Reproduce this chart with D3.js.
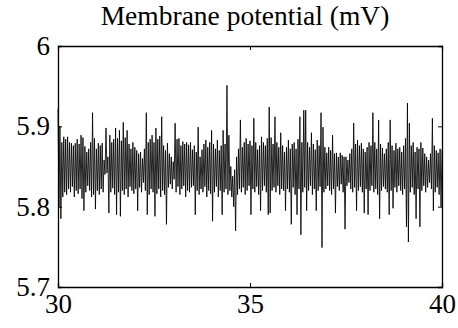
<!DOCTYPE html>
<html>
<head>
<meta charset="utf-8">
<script src="https://cdn.jsdelivr.net/npm/d3@7"></script>
<style>
  body { margin: 0; background: #fff; }
  svg { display: block; }
  text { font-family: "Liberation Serif", "Times New Roman", Times, "DejaVu Serif", serif; fill: #000; }
</style>
</head>
<body>
<svg id="chart" width="458" height="328"></svg>
<script>
// time axis (s) and membrane potential samples (mV)
const tStart = 30;
const tStep = 0.025;
const potential = [
  5.922, 5.800, 5.900, 5.785, 5.880, 5.812, 5.887, 5.818, 5.884, 5.815,
  5.887, 5.822, 5.880, 5.818, 5.879, 5.825, 5.876, 5.812, 5.879, 5.820,
  5.884, 5.816, 5.878, 5.822, 5.889, 5.810, 5.886, 5.795, 5.875, 5.818,
  5.868, 5.826, 5.872, 5.820, 5.880, 5.812, 5.917, 5.815, 5.885, 5.797,
  5.872, 5.820, 5.879, 5.815, 5.876, 5.822, 5.879, 5.818, 5.858, 5.840,
  5.898, 5.842, 5.862, 5.792, 5.889, 5.818, 5.880, 5.823, 5.884, 5.815,
  5.898, 5.790, 5.885, 5.818, 5.895, 5.788, 5.882, 5.820, 5.905, 5.815,
  5.886, 5.822, 5.895, 5.812, 5.878, 5.825, 5.872, 5.820, 5.880, 5.816,
  5.874, 5.822, 5.870, 5.795, 5.866, 5.824, 5.868, 5.818, 5.860, 5.830,
  5.872, 5.820, 5.917, 5.790, 5.880, 5.815, 5.884, 5.822, 5.889, 5.818,
  5.880, 5.788, 5.898, 5.816, 5.884, 5.822, 5.888, 5.812, 5.912, 5.820,
  5.876, 5.815, 5.870, 5.778, 5.879, 5.824, 5.866, 5.828, 5.862, 5.822,
  5.856, 5.834, 5.904, 5.818, 5.884, 5.825, 5.885, 5.815, 5.876, 5.822,
  5.881, 5.826, 5.878, 5.812, 5.880, 5.820, 5.877, 5.818, 5.880, 5.824,
  5.871, 5.826, 5.876, 5.790, 5.868, 5.820, 5.899, 5.815, 5.862, 5.822,
  5.871, 5.818, 5.878, 5.825, 5.883, 5.812, 5.874, 5.820, 5.880, 5.816,
  5.895, 5.782, 5.878, 5.818, 5.872, 5.825, 5.883, 5.812, 5.870, 5.820,
  5.876, 5.790, 5.895, 5.818, 5.878, 5.822, 5.951, 5.815, 5.889, 5.820,
  5.850, 5.812, 5.838, 5.800, 5.846, 5.770, 5.862, 5.815, 5.872, 5.822,
  5.908, 5.818, 5.874, 5.824, 5.880, 5.815, 5.885, 5.820, 5.878, 5.826,
  5.882, 5.790, 5.876, 5.822, 5.910, 5.818, 5.880, 5.825, 5.871, 5.815,
  5.876, 5.795, 5.887, 5.820, 5.880, 5.826, 5.876, 5.818, 5.885, 5.790,
  5.924, 5.792, 5.886, 5.820, 5.878, 5.824, 5.912, 5.818, 5.880, 5.826,
  5.874, 5.815, 5.892, 5.822, 5.876, 5.820, 5.868, 5.795, 5.874, 5.822,
  5.883, 5.818, 5.872, 5.778, 5.878, 5.824, 5.880, 5.815, 5.872, 5.790,
  5.884, 5.822, 5.912, 5.765, 5.880, 5.818, 5.920, 5.824, 5.920, 5.795,
  5.880, 5.820, 5.874, 5.826, 5.892, 5.815, 5.878, 5.822, 5.871, 5.795,
  5.883, 5.820, 5.876, 5.825, 5.917, 5.749, 5.899, 5.818, 5.874, 5.822,
  5.867, 5.826, 5.874, 5.820, 5.870, 5.815, 5.889, 5.822, 5.866, 5.792,
  5.867, 5.825, 5.862, 5.820, 5.867, 5.828, 5.864, 5.818, 5.862, 5.772,
  5.862, 5.826, 5.858, 5.830, 5.866, 5.822, 5.872, 5.818, 5.904, 5.824,
  5.878, 5.795, 5.883, 5.820, 5.876, 5.825, 5.879, 5.818, 5.872, 5.792,
  5.868, 5.822, 5.874, 5.790, 5.880, 5.820, 5.876, 5.826, 5.917, 5.818,
  5.880, 5.822, 5.872, 5.815, 5.908, 5.785, 5.878, 5.820, 5.873, 5.825,
  5.866, 5.822, 5.872, 5.818, 5.880, 5.790, 5.908, 5.820, 5.876, 5.798,
  5.870, 5.824, 5.879, 5.818, 5.872, 5.826, 5.874, 5.820, 5.868, 5.815,
  5.876, 5.822, 5.885, 5.775, 5.929, 5.756, 5.904, 5.818, 5.876, 5.824,
  5.880, 5.815, 5.868, 5.785, 5.874, 5.822, 5.872, 5.775, 5.880, 5.820,
  5.873, 5.826, 5.866, 5.818, 5.862, 5.824, 5.858, 5.830, 5.866, 5.822,
  5.910, 5.795, 5.876, 5.818, 5.870, 5.824, 5.867, 5.815, 5.872, 5.800,
  5.871
];
const xTicks = [30, 35, 40];
const yTicks = [5.7, 5.8, 5.9, 6];
const title = "Membrane potential (mV)";

const svg = d3.select("#chart");
const margin = { top: 46, right: 16, bottom: 41, left: 58 };
const width = 458 - margin.left - margin.right;
const height = 328 - margin.top - margin.bottom;

const g = svg.append("g")
    .attr("transform", "translate(" + margin.left + "," + margin.top + ")");

const x = d3.scaleLinear().domain([30, 40]).range([0, width]);
const y = d3.scaleLinear().domain([5.7, 6]).range([height, 0]);

// the trace
const line = d3.line()
    .x((d, i) => x(tStart + i * tStep))
    .y((d) => y(d));

g.append("path")
    .datum(potential)
    .attr("fill", "none")
    .attr("stroke", "#000")
    .attr("stroke-width", 0.85)
    .attr("d", line);

// box axes, ticks pointing inward
const fmt = d3.format("");
const serif = '"Liberation Serif", "Times New Roman", Times, "DejaVu Serif", serif';
g.append("g")
    .attr("transform", "translate(0," + height + ")")
    .call(d3.axisBottom(x).tickValues(xTicks).tickSize(-4).tickPadding(7).tickFormat(fmt));
g.append("g")
    .call(d3.axisLeft(y).tickValues(yTicks).tickSize(-4).tickPadding(8).tickFormat(fmt));
g.append("g")
    .call(d3.axisTop(x).tickValues(xTicks).tickSize(-4).tickFormat(""));
g.append("g")
    .attr("transform", "translate(" + width + ",0)")
    .call(d3.axisRight(y).tickValues(yTicks).tickSize(-4).tickFormat(""));

g.selectAll(".domain").attr("stroke", "#000").attr("stroke-width", 1.3);
g.selectAll(".tick text")
    .attr("font-family", null)
    .style("font-family", serif)
    .style("font-size", "27px");

svg.append("text")
    .attr("x", margin.left + width / 2 - 5)
    .attr("y", 25)
    .attr("text-anchor", "middle")
    .style("font-family", serif)
    .style("font-size", "27.5px")
    .text(title);
</script>
</body>
</html>
